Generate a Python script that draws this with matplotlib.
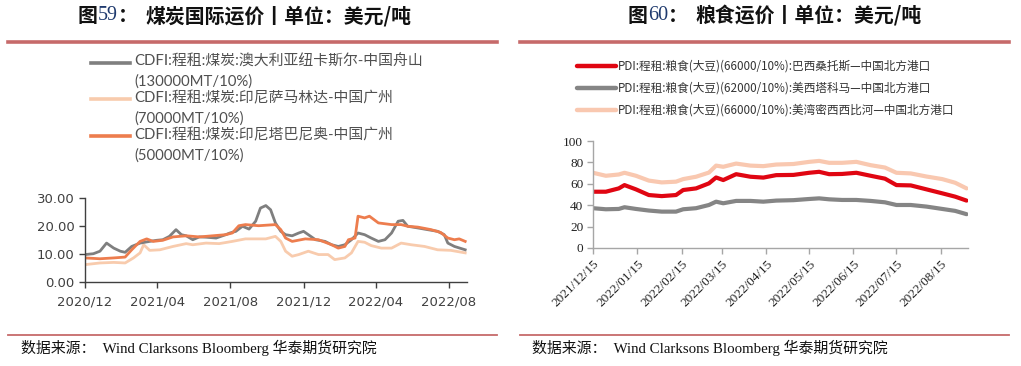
import matplotlib
matplotlib.use("Agg")
import matplotlib.pyplot as plt
from matplotlib.lines import Line2D
import pandas as pd

# ---------------- Left chart data (CDFI coal) ----------------
coal_au_dates = ["2020-12-01","2020-12-15","2020-12-26","2021-01-06","2021-01-18","2021-01-29",
    "2021-02-06","2021-02-17","2021-03-03","2021-03-19","2021-03-31","2021-04-10","2021-04-21",
    "2021-05-02","2021-05-11","2021-05-19","2021-05-30","2021-06-10","2021-06-21","2021-07-08",
    "2021-07-24","2021-07-31","2021-08-10","2021-08-21","2021-09-01","2021-09-12","2021-09-20",
    "2021-09-29","2021-10-07","2021-10-15","2021-10-24","2021-11-01","2021-11-12","2021-11-23",
    "2021-12-01","2021-12-09","2021-12-21","2022-01-06","2022-01-17","2022-01-28","2022-02-08",
    "2022-02-19","2022-03-02","2022-03-13","2022-03-24","2022-04-05","2022-04-16","2022-04-27",
    "2022-05-08","2022-05-16","2022-05-24","2022-06-10","2022-06-26","2022-07-13","2022-07-24",
    "2022-07-30","2022-08-10","2022-08-28"]
coal_au = [9.8,10.1,11.0,13.9,12.1,11.0,10.6,12.7,13.9,14.5,14.9,15.1,16.3,18.7,16.9,16.5,15.1,
    16.1,16.0,15.7,16.9,17.5,18.1,19.9,18.9,21.7,26.4,27.3,25.8,21.1,18.1,16.9,16.5,17.5,18.1,
    16.9,15.1,14.5,13.3,12.7,13.3,15.1,17.5,16.9,15.7,14.5,15.1,17.5,21.7,22.0,19.9,19.3,18.7,
    18.1,16.9,13.9,12.7,11.5]

coal_sam_dates = ["2020-12-01","2020-12-26","2021-01-18","2021-02-06","2021-02-20","2021-03-03",
    "2021-03-09","2021-03-19","2021-04-05","2021-04-27","2021-05-19","2021-05-30","2021-06-21",
    "2021-07-13","2021-08-04","2021-08-26","2021-09-29","2021-10-15","2021-10-24","2021-11-01",
    "2021-11-12","2021-11-23","2021-12-09","2021-12-26","2022-01-11","2022-01-22","2022-02-08",
    "2022-02-19","2022-03-02","2022-03-13","2022-03-24","2022-04-10","2022-04-27","2022-05-13",
    "2022-05-30","2022-06-21","2022-07-13","2022-08-04","2022-08-28"]
coal_sam = [6.2,6.8,7.0,6.8,8.6,10.4,13.3,11.3,11.5,12.7,13.7,13.3,13.9,13.7,14.5,15.4,15.4,
    16.3,14.5,11.0,9.2,9.8,11.0,9.8,9.8,8.0,8.6,10.4,14.5,14.2,13.0,12.1,12.1,13.9,13.3,12.7,
    11.5,11.3,10.4]

coal_tab_dates = ["2020-12-01","2020-12-26","2021-01-18","2021-02-06","2021-02-17","2021-03-03",
    "2021-03-14","2021-03-25","2021-04-10","2021-04-27","2021-05-19","2021-06-10","2021-07-02",
    "2021-07-24","2021-08-04","2021-08-15","2021-08-26","2021-09-17","2021-10-15","2021-10-24",
    "2021-11-01","2021-11-12","2021-12-04","2021-12-26","2022-01-17","2022-01-28","2022-02-08",
    "2022-02-14","2022-02-25","2022-03-02","2022-03-13","2022-03-21","2022-04-05","2022-04-27",
    "2022-05-13","2022-05-24","2022-06-10","2022-07-02","2022-07-18","2022-07-30","2022-08-10",
    "2022-08-18","2022-08-28"]
coal_tab = [8.6,8.3,8.6,8.9,11.5,14.5,15.4,14.5,14.9,16.1,16.5,16.1,16.5,16.9,17.5,20.1,20.5,
    20.1,20.5,18.7,15.7,14.5,15.4,15.1,13.3,12.1,12.7,15.1,15.7,23.5,22.9,23.5,21.1,20.5,20.5,
    19.9,19.6,18.7,17.7,15.7,15.1,15.4,14.5]

coal_labels = ["CDFI:程租:煤炭:澳大利亚纽卡斯尔-中国舟山\n(130000MT/10%)",
               "CDFI:程租:煤炭:印尼萨马林达-中国广州\n(70000MT/10%)",
               "CDFI:程租:煤炭:印尼塔巴尼奥-中国广州\n(50000MT/10%)"]
coal_yticks = [0, 10, 20, 30]
coal_xticks = ["2020-12-01","2021-04-01","2021-08-01","2021-12-01","2022-04-01","2022-08-01"]

# ---------------- Right chart data (PDI grain) ----------------
grain_dates = ["2021-12-15","2021-12-24","2022-01-02","2022-01-06","2022-01-14","2022-01-23",
    "2022-02-01","2022-02-11","2022-02-16","2022-02-25","2022-03-06","2022-03-11","2022-03-16",
    "2022-03-25","2022-04-04","2022-04-13","2022-04-22","2022-05-04","2022-05-15","2022-05-22",
    "2022-05-29","2022-06-07","2022-06-17","2022-06-27","2022-07-07","2022-07-15","2022-07-25",
    "2022-08-05","2022-08-16","2022-08-25","2022-09-02"]
grain_brazil = [52.6,52.6,55.7,58.8,54.8,49.5,48.5,49.5,54.2,55.7,60.4,65.9,63.5,69.0,66.6,65.8,
    68.1,68.3,70.3,71.2,69.0,69.2,70.3,67.5,64.8,58.8,58.5,54.8,51.1,48.0,44.3]
grain_west = [37.2,36.2,36.5,38.1,36.5,35.0,34.0,34.0,36.2,37.2,40.2,43.3,41.8,44.0,44.0,43.3,
    44.3,44.7,45.8,46.4,45.5,44.9,44.9,44.0,42.7,40.2,40.2,38.7,36.5,34.7,31.6]
grain_gulf = [70.3,67.5,68.7,70.3,67.5,63.0,61.3,62.0,64.4,66.6,70.5,77.0,75.9,78.9,77.0,76.5,
    78.0,78.5,80.5,81.4,79.6,79.6,80.5,77.4,75.2,70.3,69.7,66.8,64.4,61.0,55.7]
grain_labels = ["PDI:程租:粮食(大豆)(66000/10%):巴西桑托斯—中国北方港口",
                "PDI:程租:粮食(大豆)(62000/10%):美西塔科马—中国北方港口",
                "PDI:程租:粮食(大豆)(66000/10%):美湾密西西比河—中国北方港口"]
grain_yticks = [0, 20, 40, 60, 80, 100]
grain_xticks = ["2021-12-15","2022-01-15","2022-02-15","2022-03-15","2022-04-15",
                "2022-05-15","2022-06-15","2022-07-15","2022-08-15"]

title_nums = ["59", "60"]
title_texts = ["煤炭国际运价丨单位：美元/吨", "粮食运价丨单位：美元/吨"]
source = "数据来源：  Wind Clarksons Bloomberg 华泰期货研究院"

W, H = 1021, 366
fig = plt.figure(figsize=(W / 100, H / 100), dpi=100)
fig.patch.set_facecolor("white")
renderer = fig.canvas.get_renderer()

def fx(x):
    return x / W

def fy(y):
    return 1 - y / H

CJK = ["Noto Sans CJK SC", "DejaVu Sans"]
SERIF_CJK = ["Liberation Serif", "Noto Sans CJK SC"]
rose = "#c66a6a"

# ---- titles (composed: 图 + serif number + ： + text) ----
def put_title(x0, x_rest, num, rest):
    x = x0
    t = fig.text(fx(x), fy(16), "图", ha="left", va="center", fontsize=14.3,
                 fontweight="bold", family=CJK, color="#111111")
    x += t.get_window_extent(renderer).width
    t = fig.text(fx(x), fy(16), num, ha="left", va="center", fontsize=14.5,
                 family="Liberation Serif", color="#1f3a6e")
    x += t.get_window_extent(renderer).width
    fig.text(fx(x), fy(16), "：", ha="left", va="center", fontsize=14.3,
             fontweight="bold", family=CJK, color="#111111")
    fig.text(fx(x_rest), fy(16), rest, ha="left", va="center", fontsize=14.3,
             fontweight="bold", family=CJK, color="#111111")

put_title(78, 145, title_nums[0], title_texts[0])
put_title(628, 695, title_nums[1], title_texts[1])

for x0, x1 in [(8, 497), (520, 1009)]:
    fig.add_artist(Line2D([fx(x0), fx(x1)], [fy(41.5), fy(41.5)], color=rose, lw=2.6,
                          transform=fig.transFigure))
    fig.add_artist(Line2D([fx(x0), fx(x1)], [fy(335), fy(335)], color=rose, lw=1.3,
                          transform=fig.transFigure))
for sx in [21, 532]:
    fig.text(fx(sx), fy(348), source, ha="left", va="center", fontsize=10.75,
             family=SERIF_CJK, color="#111111")

# ---- left chart ----
coal_colors = ["#7f7f7f", "#f8cbad", "#ed7d4e"]
axL = fig.add_axes([fx(85), fy(282), fx(467 - 85), (282 - 198) / H])
series_L = [(coal_au_dates, coal_au), (coal_sam_dates, coal_sam), (coal_tab_dates, coal_tab)]
for i in [1, 0, 2]:
    d, v = series_L[i]
    axL.plot(pd.to_datetime(d), v, color=coal_colors[i], lw=2.0, solid_joinstyle="round")
axL.set_ylim(0, 30)
axL.set_xlim(pd.Timestamp("2020-12-01"), pd.Timestamp("2022-08-31"))
axL.set_yticks(coal_yticks)
axL.set_yticklabels([f"{v:.2f}" for v in coal_yticks])
xt = pd.to_datetime(coal_xticks)
axL.set_xticks(xt)
axL.set_xticklabels([d.strftime("%Y/%m") for d in xt])
for s in ["top", "right"]:
    axL.spines[s].set_visible(False)
for s in ["left", "bottom"]:
    axL.spines[s].set_color("#404040")
    axL.spines[s].set_linewidth(1.0)
axL.tick_params(axis="both", direction="out", length=4, width=1.0, color="#404040",
                labelsize=9.5, labelcolor="#404040")
axL.tick_params(axis="x", pad=6)
for lab in axL.get_xticklabels() + axL.get_yticklabels():
    lab.set_family("DejaVu Sans")

# left legend (manual)
leg_y = [62.5, 99, 136]
for i, y in enumerate(leg_y):
    fig.add_artist(Line2D([fx(91), fx(130)], [fy(y), fy(y)], color=coal_colors[i], lw=2.6,
                          transform=fig.transFigure))
    fig.text(fx(134), fy(y - 8), coal_labels[i], ha="left", va="top", fontsize=10.7,
             family=["Lato", "Noto Sans CJK SC"], color="#505050", linespacing=1.5)

# ---- right chart ----
grain_colors = ["#e00612", "#858585", "#f9c8b0"]
axR = fig.add_axes([fx(593), fy(248), fx(968 - 593), (248 - 141) / H])
gd = pd.to_datetime(grain_dates)
for vals, c in [(grain_gulf, grain_colors[2]), (grain_west, grain_colors[1]),
                (grain_brazil, grain_colors[0])]:
    axR.plot(gd, vals, color=c, lw=3.0, solid_joinstyle="round", solid_capstyle="round")
axR.set_ylim(0, 100)
axR.set_xlim(pd.Timestamp("2021-12-15"), pd.Timestamp("2022-09-03"))
axR.set_yticks(grain_yticks)
xtR = pd.to_datetime(grain_xticks)
axR.set_xticks(xtR)
axR.set_xticklabels([d.strftime("%Y/%m/%d") for d in xtR], rotation=45, ha="right",
                    rotation_mode="anchor")
for s in ["top", "right"]:
    axR.spines[s].set_visible(False)
for s in ["left", "bottom"]:
    axR.spines[s].set_color("#a6a6a6")
    axR.spines[s].set_linewidth(1.0)
axR.tick_params(axis="both", direction="out", length=4, width=1.0, color="#a6a6a6",
                labelsize=9.5, labelcolor="#222222")
axR.tick_params(axis="y", pad=3)
axR.tick_params(axis="x", pad=3)
for lab in axR.get_xticklabels() + axR.get_yticklabels():
    lab.set_family("Liberation Serif")

# right legend (manual)
leg_yR = [66, 88, 110]
for i, y in enumerate(leg_yR):
    fig.add_artist(Line2D([fx(577), fx(616)], [fy(y), fy(y)], color=grain_colors[i], lw=3.2,
                          solid_capstyle="round", transform=fig.transFigure))
    fig.text(fx(618), fy(y), grain_labels[i], ha="left", va="center", fontsize=8.4,
             family=["Noto Sans CJK SC", "DejaVu Sans"], color="#333333")

fig.savefig("out.png", dpi=100)
